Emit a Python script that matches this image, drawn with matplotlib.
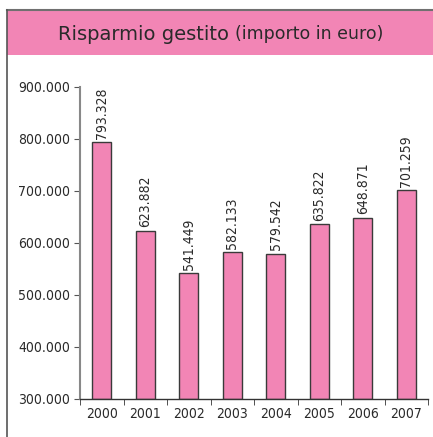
import matplotlib
matplotlib.use("Agg")
import matplotlib.pyplot as plt
from matplotlib.patches import Rectangle
from matplotlib.lines import Line2D

anni = ["2000", "2001", "2002", "2003", "2004", "2005", "2006", "2007"]
valori = [793328, 623882, 541449, 582133, 579542, 635822, 648871, 701259]
etichette = ["793.328", "623.882", "541.449", "582.133", "579.542", "635.822", "648.871", "701.259"]
yticks = [300000, 400000, 500000, 600000, 700000, 800000, 900000]

ROSA = "#f285b5"
TESTO = "#2a2a2a"
plt.rcParams["font.family"] = ["DejaVu Sans"]
plt.rcParams["font.stretch"] = "condensed"

fig = plt.figure(figsize=(4.33, 4.37), dpi=100)
fig.patch.set_facecolor("white")

# cornice e fascia del titolo
W, H = 433, 437
fig.patches.append(Rectangle((7 / W, 1 - 55 / H), 1, 45 / H, transform=fig.transFigure,
                             facecolor=ROSA, edgecolor="none", zorder=0))
fig.lines.append(Line2D([7 / W, 1], [1 - 10 / H, 1 - 10 / H], transform=fig.transFigure,
                        color="#707070", lw=1.5))
fig.lines.append(Line2D([7 / W, 7 / W], [0, 1 - 10 / H], transform=fig.transFigure,
                        color="#555555", lw=1.2))
fig.text(235 / W, 1 - 34 / H, "Risparmio gestito ", ha="right", va="center",
         fontsize=14, color=TESTO, fontstretch="normal")
fig.text(235 / W, 1 - 34 / H, "(importo in euro)", ha="left", va="center",
         fontsize=12.5, color=TESTO, fontstretch="normal")

ax = fig.add_axes([80 / W, 1 - 399 / H, 348 / W, 312 / H])
x = list(range(len(anni)))
ax.bar(x, [v - 300000 for v in valori], bottom=300000, width=0.44,
       color=ROSA, edgecolor="#3a3a3a", linewidth=1, zorder=2)
for xi, v, lab in zip(x, valori, etichette):
    ax.text(xi, v + 7000, lab, rotation=90, ha="center", va="bottom",
            fontsize=10, color=TESTO)

ax.set_xlim(-0.5, 7.5)
ax.set_ylim(300000, 900000)
ax.set_yticks(yticks)
ax.set_yticklabels([f"{t:,}".replace(",", ".") for t in yticks], fontsize=10, color=TESTO)
ax.set_xticks(x)
ax.set_xticklabels(anni, fontsize=10, color=TESTO)
ax.set_xticks([i - 0.5 for i in range(len(anni) + 1)], minor=True)
ax.tick_params(axis="x", which="major", length=0, pad=6)
ax.tick_params(axis="x", which="minor", length=4, color="#333333")
ax.tick_params(axis="y", length=4, color="#555555", pad=3)

for s in ["top", "right"]:
    ax.spines[s].set_visible(False)
ax.spines["left"].set_color("#888888")
ax.spines["left"].set_linewidth(1.5)
ax.spines["bottom"].set_color("#333333")
ax.spines["bottom"].set_linewidth(1)

fig.savefig("out.png", dpi=100)
